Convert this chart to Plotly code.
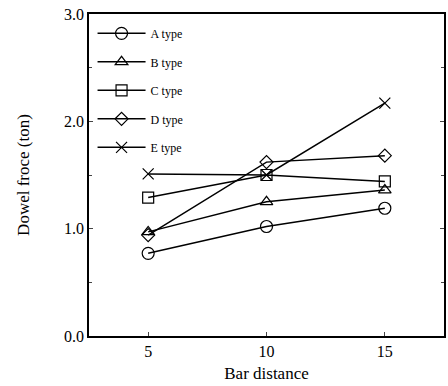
import plotly.graph_objects as go

bar_distance = [5, 10, 15]
a_type = [0.77, 1.02, 1.19]
b_type = [0.97, 1.25, 1.36]
c_type = [1.29, 1.50, 1.44]
d_type = [0.94, 1.62, 1.68]
e_type = [1.51, 1.50, 2.17]

series = [
    ("A type", a_type, "circle-open", 12),
    ("B type", b_type, "triangle-up-open", 11),
    ("C type", c_type, "square-open", 11),
    ("D type", d_type, "diamond-open", 10),
    ("E type", e_type, "x-thin-open", 11),
]

fig = go.Figure()
for i, (name, vals, sym, sz) in enumerate(series):
    fig.add_trace(go.Scatter(
        x=bar_distance, y=vals, name=name, mode="lines+markers",
        line=dict(color="black", width=1.5),
        marker=dict(symbol=sym, size=sz, color="black", line=dict(width=1.2, color="black")),
        legendgroup=f"g{i}",
    ))

serif = "Liberation Serif"
fig.update_layout(
    width=448, height=386,
    margin=dict(l=89, r=2, t=14, b=50),
    paper_bgcolor="white", plot_bgcolor="white",
    font=dict(family=serif, color="black", size=14),
    showlegend=True,
    legend=dict(x=0.01, y=0.985, xanchor="left", yanchor="top",
                font=dict(family=serif, size=12, color="black"),
                bgcolor="rgba(0,0,0,0)", tracegroupgap=9.5, itemwidth=48),
    xaxis=dict(range=[2.5, 17.5], tickvals=[5, 10, 15], ticks="inside", ticklen=4,
               showline=True, linecolor="black", linewidth=1.8, mirror=True,
               showgrid=False, zeroline=False,
               title=dict(text="Bar distance", font=dict(family=serif, size=17), standoff=8),
               tickfont=dict(family=serif, size=16)),
    yaxis=dict(range=[0, 3], dtick=1, tickformat=".1f", ticks="inside", ticklen=4,
               showline=True, linecolor="black", linewidth=1.8, mirror="ticks",
               showgrid=False, zeroline=False,
               minor=dict(dtick=0.5, ticks="inside", ticklen=3),
               title=dict(text="Dowel froce (ton)", font=dict(family=serif, size=17), standoff=30),
               tickfont=dict(family=serif, size=16)),
)

fig.write_html("out.html")
